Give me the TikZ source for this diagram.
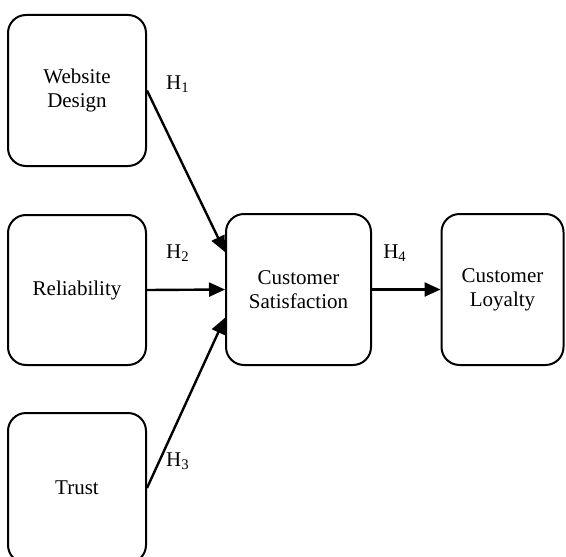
\documentclass[tikz,border=0pt]{standalone}
\usepackage{fontspec}
\setmainfont{Liberation Serif}
\usetikzlibrary{arrows.meta, positioning, calc}
\tikzset{
    factor/.style={rectangle, rounded corners=9pt, draw=black, line width=1pt, align=center, font=\fontsize{10.5}{12}\selectfont, inner sep=0pt},
    hyp/.style={font=\fontsize{10.5}{12}\selectfont},
    arrow/.style={-{Triangle[length=8pt, width=7pt]}, line width=1.2pt, black},
}

\begin{document}
\begin{tikzpicture}[x=0.5pt, y=-0.5pt]
\useasboundingbox (0,0) rectangle (566,556);

% Left column: antecedents
\node[factor, minimum width=69pt, minimum height=75.5pt] (web) at (77,90.5) {Website\\Design};
\node[factor, minimum width=69pt, minimum height=75pt] (rel) at (77,290) {Reliability};
\node[factor, minimum width=69pt, minimum height=75pt] (trust) at (77,488) {Trust};

% Middle and right: outcomes
\node[factor, minimum width=72.5pt, minimum height=75.5pt] (sat) at (298.5,289.5) {Customer\\Satisfaction};
\node[factor, minimum width=61pt, minimum height=75.5pt] (loy) at (502.5,289.5) {Customer\\Loyalty};

% Hypotheses
\node[hyp] (h1) at (178,84) {H\textsubscript{1}};
\node[hyp] (h2) at (178,253) {H\textsubscript{2}};
\node[hyp] (h3) at (178,461) {H\textsubscript{3}};
\node[hyp] (h4) at (395,253) {H\textsubscript{4}};

% Arrows
\draw[arrow] (web.east) -- (sat.153);
\draw[arrow] (rel.east) -- (sat.west);
\draw[arrow] (trust.east) -- (sat.201);
\draw[arrow] (sat.east) -- (loy.west);

\end{tikzpicture}
\end{document}
